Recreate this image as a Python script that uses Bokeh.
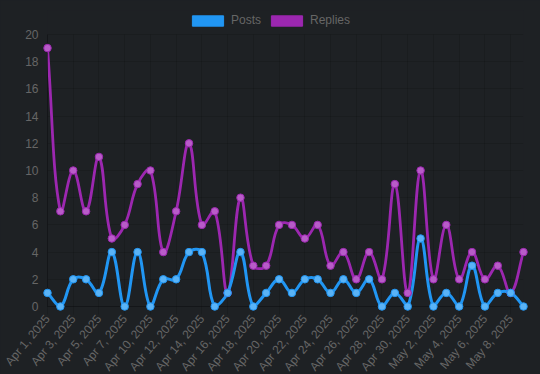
import math
from bokeh.plotting import figure
from bokeh.models import Range1d, FixedTicker, Legend, LegendItem, ColumnDataSource
from bokeh.embed import file_html
from bokeh.resources import INLINE

# ---- data ----
dates = [
    "Apr 1, 2025", "Apr 2, 2025", "Apr 3, 2025", "Apr 4, 2025", "Apr 5, 2025",
    "Apr 6, 2025", "Apr 7, 2025", "Apr 9, 2025", "Apr 10, 2025", "Apr 11, 2025",
    "Apr 12, 2025", "Apr 13, 2025", "Apr 14, 2025", "Apr 15, 2025", "Apr 16, 2025",
    "Apr 17, 2025", "Apr 18, 2025", "Apr 19, 2025", "Apr 20, 2025", "Apr 21, 2025",
    "Apr 22, 2025", "Apr 23, 2025", "Apr 24, 2025", "Apr 25, 2025", "Apr 26, 2025",
    "Apr 27, 2025", "Apr 28, 2025", "Apr 29, 2025", "Apr 30, 2025", "May 1, 2025",
    "May 2, 2025", "May 3, 2025", "May 4, 2025", "May 5, 2025", "May 6, 2025",
    "May 7, 2025", "May 8, 2025", "May 9, 2025",
]
posts = [1, 0, 2, 2, 1, 4, 0, 4, 0, 2, 2, 4, 4, 0, 1, 4, 0, 1, 2, 1,
         2, 2, 1, 2, 1, 2, 0, 1, 0, 5, 0, 1, 0, 3, 0, 1, 1, 0]
replies = [19, 7, 10, 7, 11, 5, 6, 9, 10, 4, 7, 12, 6, 7, 1, 8, 3, 3, 6, 6,
           5, 6, 3, 4, 2, 4, 2, 9, 1, 10, 2, 6, 2, 4, 2, 3, 1, 4]
y_ticks = [0, 2, 4, 6, 8, 10, 12, 14, 16, 18, 20]
series_names = ["Posts", "Replies"]

# ---- style ----
BG = "#1e2124"
BLUE = "#2196f3"
BLUE_PT = "#5ab3f6"
PURPLE = "#9c27b0"
PURPLE_PT = "#b85cc8"
TXT = "#666666"
GRID = "rgba(0,0,0,0.12)"
AXIS = "rgba(0,0,0,0.3)"
FONT = "Liberation Sans"

# chart area 476 x 272 px at (47, 34); frame extended 24 px upward to host the legend
ML, MR, MT, MB = 47, 17, 10, 68
FW, FH = 476, 272
EXTRA = 24

n = len(dates)
xs = list(range(n))
YMAX = y_ticks[-1]
YTOP = YMAX * (FH + EXTRA) / FH

p = figure(frame_width=FW, frame_height=FH + EXTRA, output_backend="svg",
           toolbar_location=None,
           x_range=Range1d(0, n - 1), y_range=Range1d(0, YTOP),
           min_border_left=ML, min_border_right=MR, min_border_top=MT,
           min_border_bottom=MB)
p.background_fill_color = BG
p.border_fill_color = BG
p.outline_line_color = None

kx = FW / (n - 1)
ky = FH / YMAX


def spline(ys, t=0.4):
    m = len(ys)
    prev_c, next_c = [], []
    for i in range(m):
        a = max(i - 1, 0)
        b = min(i + 1, m - 1)
        px, py = xs[a], ys[a]
        cx, cy = xs[i], ys[i]
        nx, ny = xs[b], ys[b]
        d01 = math.hypot((cx - px) * kx, (cy - py) * ky)
        d12 = math.hypot((nx - cx) * kx, (ny - cy) * ky)
        tot = d01 + d12
        s01 = d01 / tot if tot else 0
        s12 = d12 / tot if tot else 0
        fa, fb = t * s01, t * s12
        pcx = min(max(cx - fa * (nx - px), 0), m - 1)
        pcy = min(max(cy - fa * (ny - py), 0), YMAX)
        ncx = min(max(cx + fb * (nx - px), 0), m - 1)
        ncy = min(max(cy + fb * (ny - py), 0), YMAX)
        prev_c.append((pcx, pcy))
        next_c.append((ncx, ncy))
    return dict(
        x0=xs[:-1], y0=ys[:-1], x1=xs[1:], y1=ys[1:],
        cx0=[c[0] for c in next_c[:-1]], cy0=[c[1] for c in next_c[:-1]],
        cx1=[c[0] for c in prev_c[1:]], cy1=[c[1] for c in prev_c[1:]],
    )


# Replies (drawn below)
p.bezier(source=ColumnDataSource(spline(replies)), x0="x0", y0="y0", x1="x1", y1="y1",
         cx0="cx0", cy0="cy0", cx1="cx1", cy1="cy1", line_color=PURPLE, line_width=2.8)
# Posts
p.bezier(source=ColumnDataSource(spline(posts)), x0="x0", y0="y0", x1="x1", y1="y1",
         cx0="cx0", cy0="cy0", cx1="cx1", cy1="cy1", line_color=BLUE, line_width=3)
# points (unclipped, like the reference)
p.scatter(xs, replies, size=7.5, fill_color=PURPLE_PT, line_color=PURPLE, line_width=1,
          level="overlay")
p.scatter(xs, posts, size=7.5, fill_color=BLUE_PT, line_color=BLUE, line_width=1,
          level="overlay")

# legend swatches (renderers with a single non-drawable row, used only by the legend)
nan = float("nan")
rp = p.quad(source=ColumnDataSource(dict(left=[nan], right=[nan], top=[nan], bottom=[nan])),
            left="left", right="right", top="top", bottom="bottom",
            fill_color=BLUE, line_color=BLUE, line_width=1)
rr = p.quad(source=ColumnDataSource(dict(left=[nan], right=[nan], top=[nan], bottom=[nan])),
            left="left", right="right", top="top", bottom="bottom",
            fill_color=PURPLE, line_color=PURPLE, line_width=1)
legend = Legend(items=[LegendItem(label=series_names[0], renderers=[rp], index=0),
                       LegendItem(label=series_names[1], renderers=[rr], index=0)],
                orientation="horizontal", location=(141, FH + 7),
                glyph_width=39, glyph_height=13, label_height=13, label_standoff=4,
                spacing=6, padding=0, margin=0, border_line_alpha=0,
                background_fill_alpha=0, label_text_font=FONT,
                label_text_font_size="12px", label_text_color=TXT)
p.add_layout(legend)

# axes
xa = p.xaxis[0]
xa.ticker = FixedTicker(ticks=list(range(0, n, 2)))
xa.major_label_overrides = {i: dates[i] for i in range(0, n, 2)}
xa.major_label_orientation = math.radians(50)
xa.axis_line_color = AXIS
xa.major_tick_line_color = GRID
xa.major_tick_out = 8
xa.major_tick_in = 0
xa.minor_tick_out = 0
xa.minor_tick_in = 0
xa.major_label_standoff = 2
xa.major_label_text_color = TXT
xa.major_label_text_font = FONT
xa.major_label_text_font_size = "12px"

ya = p.yaxis[0]
ya.ticker = FixedTicker(ticks=y_ticks)
ya.bounds = (0, YMAX)
ya.axis_line_color = AXIS
ya.major_tick_out = 0
ya.major_tick_in = 0
ya.minor_tick_out = 0
ya.minor_tick_in = 0
ya.major_label_standoff = 9
ya.major_label_text_color = TXT
ya.major_label_text_font = FONT
ya.major_label_text_font_size = "12px"

p.xgrid.grid_line_color = GRID
p.ygrid.grid_line_color = GRID
try:
    p.xgrid.cross_bounds = (0, YMAX)
except Exception:
    pass

PAGE_STYLE = """
{% block postamble %}
<style>html, body { background-color: #1e2124; overflow: hidden; }</style>
{% endblock %}
"""

open("out.html", "w").write(file_html(p, INLINE, template=PAGE_STYLE))
